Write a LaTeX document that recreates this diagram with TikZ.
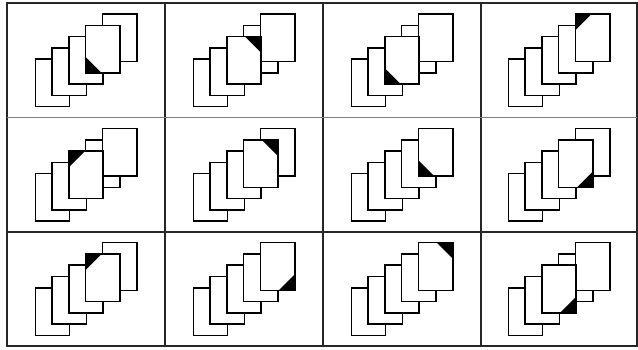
\documentclass[tikz,border=0pt]{standalone}
\usepackage{tikz}

\tikzset{
    sheet/.style={draw=black, fill=white, line width=1.5pt, line join=miter},
    dogear/.style={fill=black},
    gridline/.style={draw=black!85, line width=1.6pt},
}

% #1/#2 = centre of the cell, #3 = sheet on top (1..5), #4/#5 = corner (-1/1)
\newcommand{\sheetstack}[5]{%
    \begin{scope}[shift={(#1,#2)}]
        \foreach \i in {1,...,5} {
            \ifnum\i=#3\relax\else
                \draw[sheet] ({(\i-3)*16.8-17.15},{-(\i-3)*11.25-23.75}) rectangle ++(34.3,47.5);
            \fi
        }
        \draw[sheet] ({(#3-3)*16.8-17.15},{-(#3-3)*11.25-23.75}) rectangle ++(34.3,47.5);
        \fill[dogear] ({(#3-3)*16.8+(#4)*17.15},{-(#3-3)*11.25+(#5)*23.75})
            -- ++({0-(#4)*16},0) -- ++({(#4)*16},{0-(#5)*16}) -- cycle;
    \end{scope}}

\begin{document}
\begin{tikzpicture}[x=1pt, y=-1pt]
    \useasboundingbox (0,0) rectangle (638,350);

    % Grid
    \draw[gridline] (7,3) rectangle (637,346);
    \foreach \x in {165,323,481}
        \draw[gridline] (\x,3) -- (\x,346);
    \draw[draw=black!50, line width=0.8pt] (7,117.5) -- (637,117.5);
    \draw[gridline] (7,232) -- (637,232);

    % Stacks: x / y / top sheet / corner
    \foreach \colx/\rowy/\f/\sx/\sy in {
        86/60.5/4/-1/1,   244/60.5/3/1/-1,   402/60.5/3/-1/1,   559/60.5/5/-1/-1,
        86/175/3/-1/-1,   244/175/4/1/-1,    402/175/5/-1/1,    559/175/4/1/1,
        86/289/4/-1/-1,   244/289/5/1/1,     402/289/5/1/-1,    559/289/3/1/1} {
        \sheetstack{\colx}{\rowy}{\f}{\sx}{\sy}
    }
\end{tikzpicture}
\end{document}
